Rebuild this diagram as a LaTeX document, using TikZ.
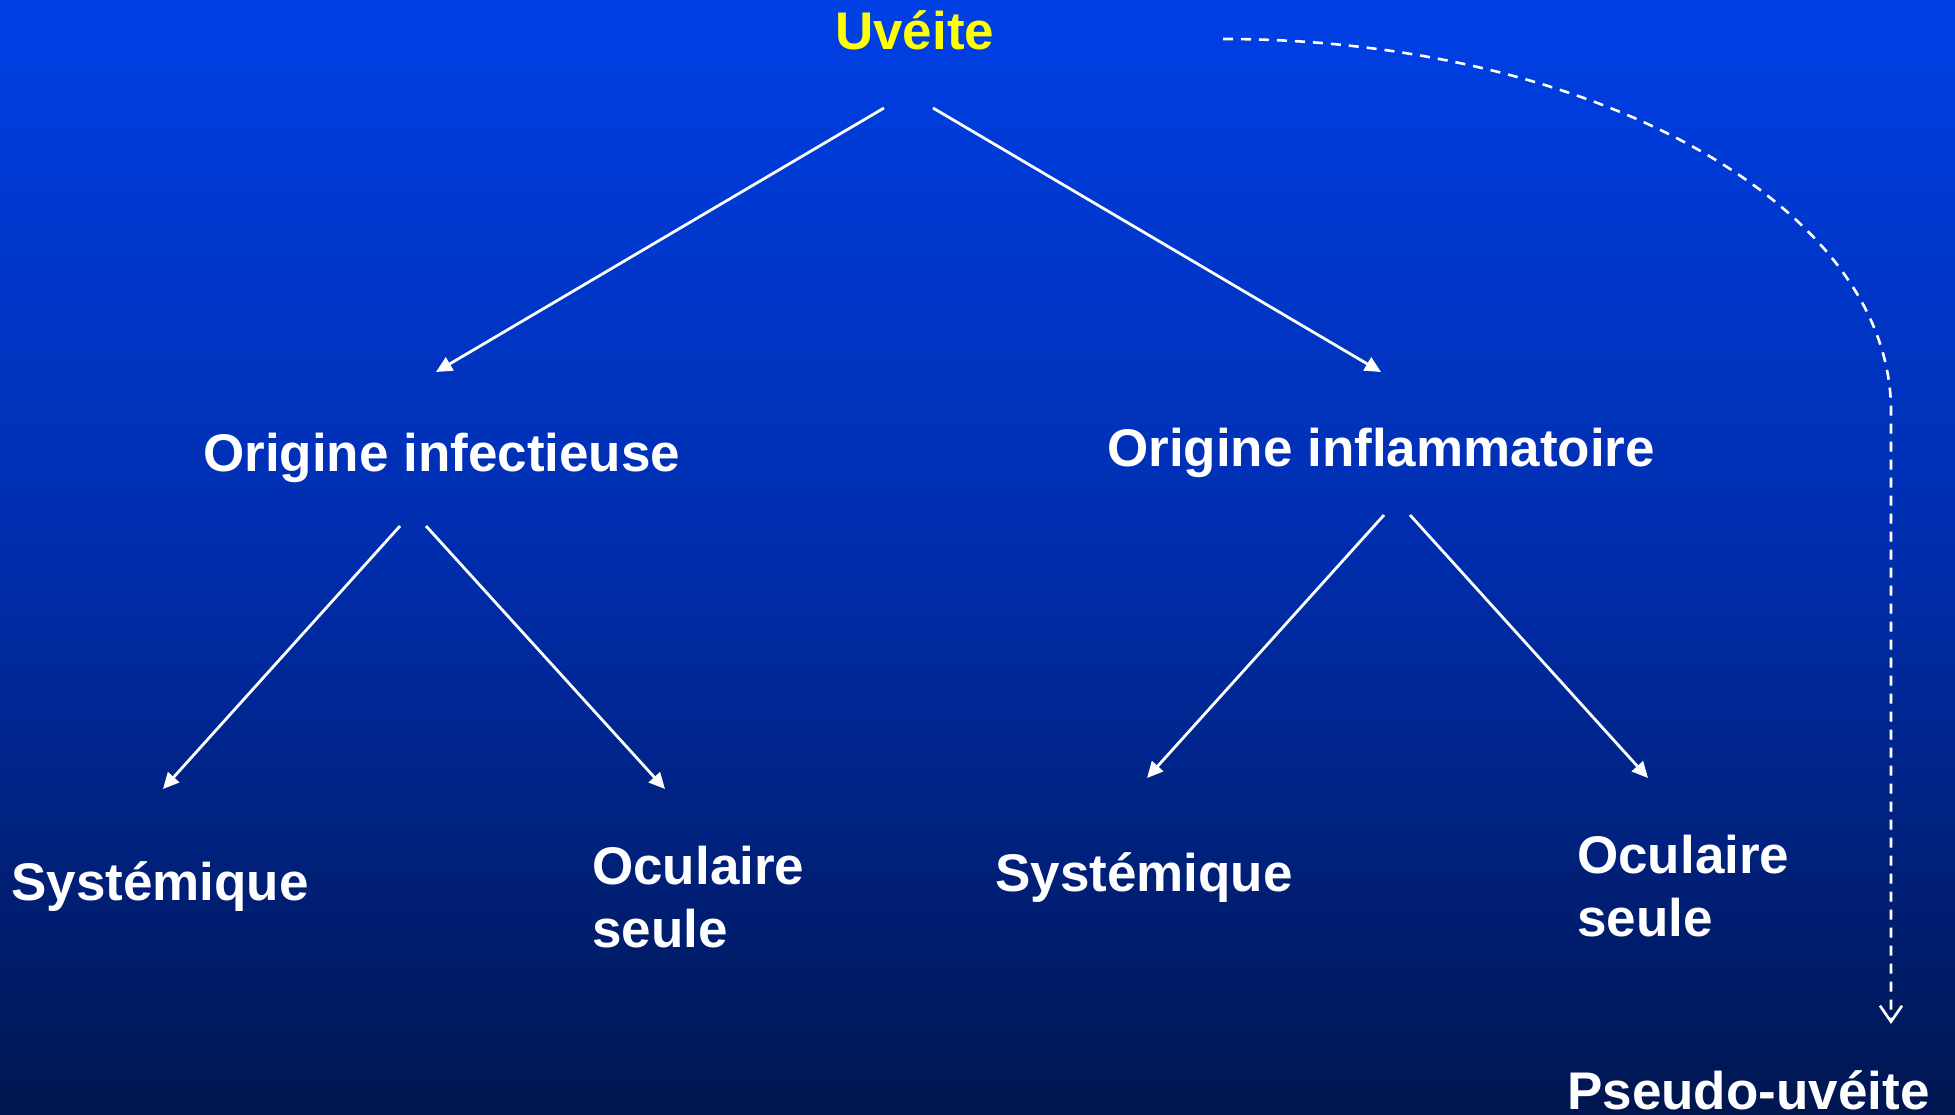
\documentclass[tikz,border=0pt]{standalone}
\usepackage{fontspec}
\setmainfont{Liberation Sans}
\usetikzlibrary{arrows.meta}
\definecolor{bgtop}{RGB}{0,64,230}
\definecolor{bgmid}{RGB}{0,45,172}
\definecolor{bgbot}{RGB}{0,22,80}
\definecolor{titleyellow}{RGB}{255,255,0}
\tikzset{
  lbl/.style={anchor=base west, inner sep=0pt, text=white, font=\fontsize{53}{63}\selectfont\bfseries},
  lbl2/.style={lbl, align=left},
  arr/.style={draw=white, line width=2.8pt, -{Triangle[length=16pt,width=15pt]}},
  darr/.style={draw=white, line width=2.6pt, dash pattern=on 10pt off 8pt, -{Straight Barb[length=16pt,width=22pt,line width=2.6pt]}}
}
\begin{document}
\begin{tikzpicture}[x=1pt,y=-1pt]
\shade[top color=bgtop, bottom color=bgbot, middle color=bgmid] (0,0) rectangle (1955,1115);
\useasboundingbox (0,0) rectangle (1955,1115);

\node[lbl, text=titleyellow] (uveite) at (835,50) {Uvéite};
\node[lbl] (infect) at (203,471) {Origine infectieuse};
\node[lbl] (inflam) at (1107,466) {Origine inflammatoire};
\node[lbl] (sys1) at (11,900) {Systémique};
\node[lbl2] (ocu1) at (592,947) {Oculaire\\seule};
\node[lbl] (sys2) at (995,891) {Systémique};
\node[lbl2] (ocu2) at (1577,936) {Oculaire\\seule};
\node[lbl] (pseudo) at (1567,1109) {Pseudo-uvéite};

\coordinate (u1) at (884,108);
\coordinate (u2) at (933,108);
\coordinate (i0) at (436,372);
\coordinate (f0) at (1381,372);
\coordinate (i1) at (400,526);
\coordinate (i2) at (426,526);
\coordinate (f1) at (1384,515);
\coordinate (f2) at (1410,515);
\coordinate (s1) at (163,789);
\coordinate (o1) at (665,789);
\coordinate (s2) at (1147,778);
\coordinate (o2) at (1648,778);
\coordinate (d0) at (1223,39);
\coordinate (d1) at (1891,411);
\coordinate (p0) at (1891,1024);

\draw[arr] (u1) -- (i0);
\draw[arr] (u2) -- (f0);
\draw[arr] (i1) -- (s1);
\draw[arr] (i2) -- (o1);
\draw[arr] (f1) -- (s2);
\draw[arr] (f2) -- (o2);
\draw[darr] (d0) .. controls (1592,39) and (1891,206) .. (d1) -- (p0);
\end{tikzpicture}
\end{document}
